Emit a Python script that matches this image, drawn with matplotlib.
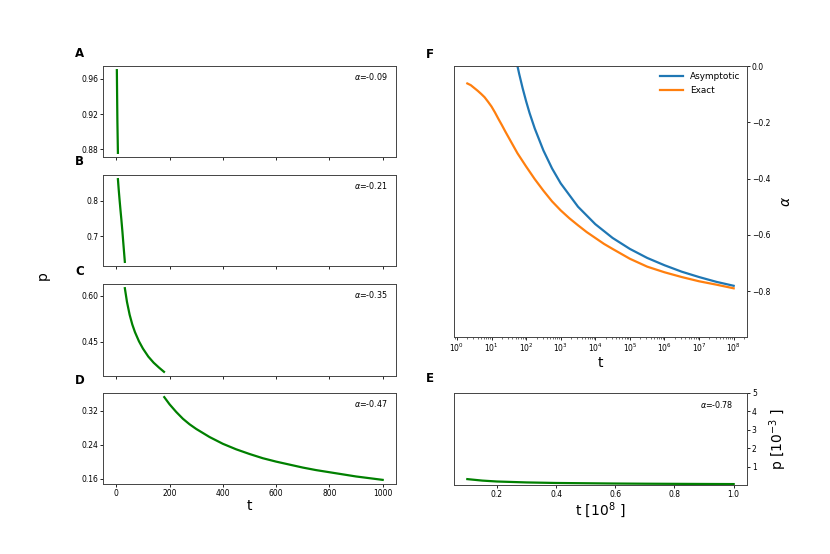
import numpy as np
import matplotlib
matplotlib.use("Agg")
import matplotlib.pyplot as plt
from matplotlib.ticker import LogLocator, NullFormatter

# ---- data ----
tA = [2, 4, 6]
pA = [0.970, 0.912, 0.876]
alphaA = "-0.09"

tB = [6, 9, 12, 16, 19, 23, 26, 29, 32]
pB = [0.862, 0.832, 0.805, 0.771, 0.747, 0.712, 0.683, 0.655, 0.627]
alphaB = "-0.21"

tC = [32, 40, 50, 60, 70, 85, 100, 120, 140, 160, 179]
pC = [0.625, 0.580, 0.538, 0.506, 0.481, 0.451, 0.427, 0.401, 0.381, 0.365, 0.351]
alphaC = "-0.35"

tD = [180, 200, 225, 250, 275, 300, 350, 400, 450, 500, 550, 600, 650, 700,
      750, 800, 850, 900, 950, 1000]
pD = [0.352, 0.335, 0.317, 0.301, 0.288, 0.277, 0.258, 0.242, 0.229, 0.218,
      0.208, 0.200, 0.193, 0.186, 0.180, 0.175, 0.170, 0.165, 0.161, 0.157]
alphaD = "-0.47"

tE = [0.1, 0.15, 0.2, 0.3, 0.4, 0.5, 0.6, 0.7, 0.8, 0.9, 1.0]          # units of 1e8
pE = [0.32, 0.24, 0.19, 0.14, 0.11, 0.095, 0.08, 0.07, 0.063, 0.056, 0.05]  # units of 1e-3
alphaE = "-0.78"

log10_t_exact = [0.301, 0.4, 0.5, 0.6, 0.7, 0.8, 0.9, 1.0, 1.1, 1.2, 1.3, 1.4,
                 1.5, 1.6, 1.75, 2.0, 2.25, 2.5, 2.75, 3.0, 3.25, 3.5, 3.75,
                 4.0, 4.25, 4.5, 5.0, 5.5, 6.0, 6.5, 7.0, 7.5, 8.0]
a_exact = [-0.062, -0.068, -0.078, -0.088, -0.099, -0.111, -0.127, -0.144,
           -0.165, -0.188, -0.210, -0.233, -0.255, -0.277, -0.310, -0.357,
           -0.402, -0.443, -0.481, -0.513, -0.541, -0.566, -0.590, -0.611,
           -0.632, -0.650, -0.685, -0.713, -0.733, -0.750, -0.765, -0.777,
           -0.790]

log10_t_asym = [1.75, 1.8, 1.9, 2.0, 2.1, 2.25, 2.5, 2.75, 3.0, 3.5, 4.0, 4.5,
                5.0, 5.5, 6.0, 6.5, 7.0, 7.5, 8.0]
a_asym = [0.0, -0.028, -0.079, -0.125, -0.167, -0.222, -0.300, -0.364, -0.417,
          -0.500, -0.562, -0.611, -0.650, -0.682, -0.708, -0.731, -0.750,
          -0.767, -0.781]

yticksA = [0.88, 0.92, 0.96]
yticksB = [0.7, 0.8]
yticksC = [0.45, 0.60]
yticksD = [0.16, 0.24, 0.32]
xticks_lin = [0, 200, 400, 600, 800, 1000]
yticksF = [-0.8, -0.6, -0.4, -0.2, 0.0]
yticklabelsF = ["\u22120.8", "\u22120.6", "\u22120.4", "\u22120.2", "0.0"]
yticksE = [1, 2, 3, 4, 5]
xticksE = [0.2, 0.4, 0.6, 0.8, 1.0]

t_exact = 10.0 ** np.array(log10_t_exact)
t_asym = 10.0 ** np.array(log10_t_asym)

W, H = 830, 554
fig = plt.figure(figsize=(W / 100, H / 100), dpi=100)


def rect(l, t, r, b):
    return [l / W, 1 - b / H, (r - l) / W, (b - t) / H]


TICK_FS = 5.5
LABEL_FS = 10
GREEN = "green"


def style(ax):
    for s in ax.spines.values():
        s.set_linewidth(0.7)
        s.set_color("#444444")
    ax.tick_params(labelsize=TICK_FS, length=2, width=0.6, pad=1.5)


left_boxes = [(66, 157), (175, 266), (284, 376), (393, 484)]
data_left = [(tA, pA, alphaA, yticksA, "{:.2f}"),
             (tB, pB, alphaB, yticksB, "{:.1f}"),
             (tC, pC, alphaC, yticksC, "{:.2f}"),
             (tD, pD, alphaD, yticksD, "{:.2f}")]
axes_left = []
for i, ((top, bot), (tt, pp, al, yt, fmt)) in enumerate(zip(left_boxes, data_left)):
    ax = fig.add_axes(rect(103, top, 396, bot),
                      sharex=axes_left[0] if axes_left else None)
    ax.plot(tt, pp, color=GREEN, lw=1.6)
    ax.set_yticks(yt)
    ax.set_yticklabels([fmt.format(v) for v in yt])
    ax.set_xticks(xticks_lin)
    ax.text(0.855, 0.89, r"$\alpha$=" + al, transform=ax.transAxes,
            fontsize=5.8, ha="left", va="center")
    style(ax)
    if i < 3:
        ax.tick_params(labelbottom=False)
    axes_left.append(ax)
axes_left[0].set_xlim(-50, 1050)
axes_left[3].set_xlabel("t", fontsize=LABEL_FS, labelpad=1)

# Panel F
axF = fig.add_axes(rect(454, 66, 747, 337))
axF.plot(t_asym, a_asym, color="C0", lw=1.6, label="Asymptotic")
axF.plot(t_exact, a_exact, color="C1", lw=1.6, label="Exact")
axF.set_xscale("log")
axF.set_xticks([10.0 ** k for k in range(9)])
axF.xaxis.set_minor_locator(LogLocator(base=10, subs=np.arange(2, 10), numticks=100))
axF.xaxis.set_minor_formatter(NullFormatter())
axF.set_ylim(-0.963, 0.0)
axF.set_yticks(yticksF)
axF.set_yticklabels(yticklabelsF)
axF.yaxis.tick_right()
axF.yaxis.set_label_position("right")
axF.set_ylabel(r"$\alpha$", fontsize=LABEL_FS, labelpad=6)
axF.set_xlabel("t", fontsize=LABEL_FS, labelpad=1)
style(axF)
axF.tick_params(which="minor", length=1.2, width=0.4)
axF.legend(loc="upper right", frameon=False, fontsize=6.4, handlelength=2.6,
           borderaxespad=0.3)

# Panel E
axE = fig.add_axes(rect(454, 393, 747, 485))
axE.plot(tE, pE, color=GREEN, lw=1.6)
axE.set_ylim(0, 5)
axE.set_yticks(yticksE)
axE.set_xticks(xticksE)
axE.set_xticklabels([f"{v:.1f}" for v in xticksE])
axE.yaxis.tick_right()
axE.yaxis.set_label_position("right")
axE.set_ylabel(r"p [10$^{-3}$ ]", fontsize=LABEL_FS, labelpad=8)
axE.set_xlabel(r"t [10$^{8}$ ]", fontsize=LABEL_FS, labelpad=1)
axE.text(0.84, 0.88, r"$\alpha$=" + alphaE, transform=axE.transAxes,
         fontsize=5.8, ha="left", va="center")
style(axE)

# Panel letters
letters = [("A", 75, 53.5), ("B", 75, 162), ("C", 75, 271), ("D", 75, 380),
           ("F", 426, 55), ("E", 426, 378)]
for lab, x, y in letters:
    fig.text(x / W, 1 - y / H, lab, fontsize=8.5, fontweight="bold",
             ha="left", va="center")

fig.text(43 / W, 1 - 276 / H, "p", fontsize=LABEL_FS, rotation=90,
         ha="center", va="center")

fig.savefig("out.png", dpi=100)
